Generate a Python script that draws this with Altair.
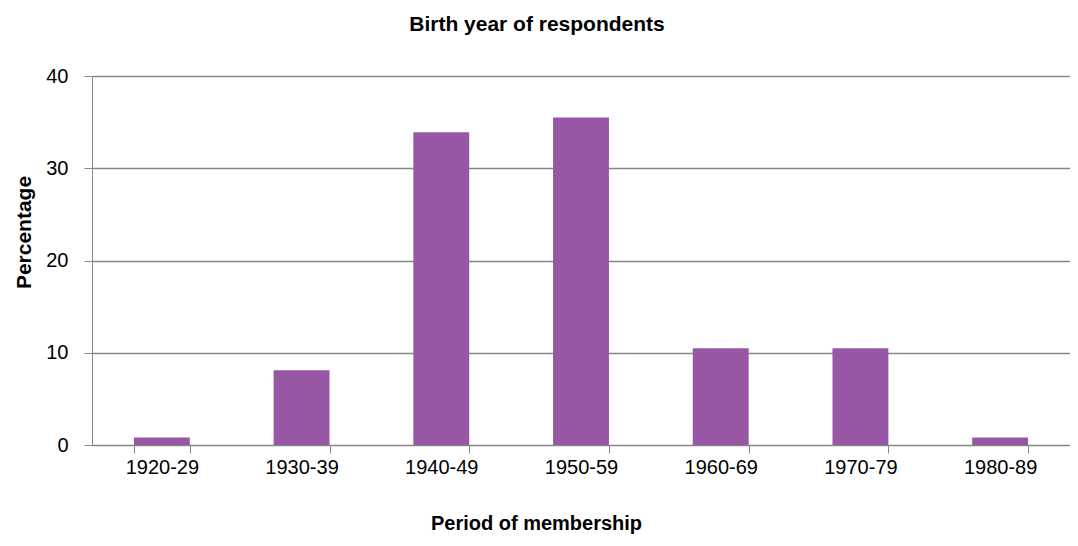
import altair as alt
import pandas as pd

categories = ["1920-29", "1930-39", "1940-49", "1950-59", "1960-69", "1970-79", "1980-89"]
values = [0.8, 8.1, 33.9, 35.5, 10.5, 10.5, 0.8]

df = pd.DataFrame({"period": categories, "pct": values})

FONT = "Liberation Sans"

chart = alt.Chart(df).mark_bar(color="#9757A5").encode(
    x=alt.X("period:N", sort=categories,
            scale=alt.Scale(paddingInner=0.6, paddingOuter=0.3),
            axis=alt.Axis(title="Period of membership", labelAngle=0, tickBand="extent",
                          domainColor="#868686", tickColor="#868686", tickSize=8,
                          labelFont=FONT, labelFontSize=20, labelColor="#000000", labelPadding=4,
                          titleFont=FONT, titleFontSize=20, titleFontWeight="bold",
                          titleColor="#000000", titlePadding=36, titleX=444, grid=False)),
    y=alt.Y("pct:Q", scale=alt.Scale(domain=[0, 40]),
            axis=alt.Axis(title="Percentage", values=[0, 10, 20, 30, 40],
                          grid=True, gridColor="#868686", gridWidth=1.5,
                          domainColor="#868686", tickColor="#868686", tickSize=8,
                          labelFont=FONT, labelFontSize=20, labelColor="#000000", labelPadding=16,
                          titleFont=FONT, titleFontSize=21, titleFontWeight="bold",
                          titleColor="#000000", titleX=-58, titleY=156)),
).properties(
    width=978, height=369,
    title=alt.TitleParams("Birth year of respondents", font=FONT, fontSize=21,
                          fontWeight="bold", color="#000000", anchor="middle",
                          dx=-44, offset=31),
    padding={"left": 84, "top": 68, "right": 0, "bottom": 92},
    autosize=alt.AutoSizeParams(type="none"),
).configure_view(stroke=None).configure(background="white")

chart.save("out.html", embed_options={"renderer": "svg", "actions": False})
